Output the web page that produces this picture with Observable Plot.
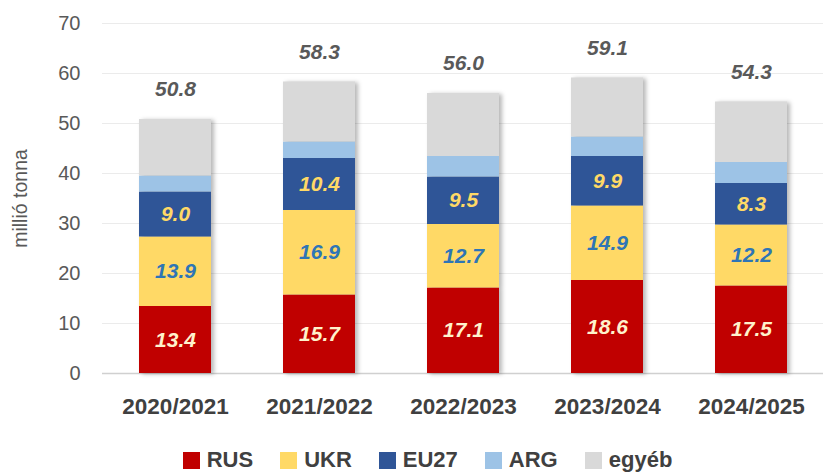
<!DOCTYPE html>
<html>
<head>
<meta charset="utf-8">
<script src="https://cdn.jsdelivr.net/npm/d3@7"></script>
<script src="https://cdn.jsdelivr.net/npm/@observablehq/plot@0.6"></script>
<style>
  body { margin: 0; background: #fff; font-family: "Liberation Sans", Arial, sans-serif; }
  #chart { width: 823px; }
  .legend { display: flex; justify-content: center; align-items: center; gap: 27px; padding-left: 32px; padding-top: 18px; height: 24px; }
  .legend span.item { display: flex; align-items: center; font-weight: bold; font-size: 22px; color: #404040; }
  .legend span.sw { display: inline-block; width: 17px; height: 17px; margin-right: 7px; }
</style>
</head>
<body>
<div id="chart"></div>
<script>
const seasons = ["2020/2021", "2021/2022", "2022/2023", "2023/2024", "2024/2025"];
const series = ["RUS", "UKR", "EU27", "ARG", "egyéb"];
const colors = ["#c00000", "#ffd966", "#2f5597", "#9dc3e6", "#d9d9d9"];
const labelColors = {RUS: "#fff2cc", UKR: "#2e75b6", EU27: "#ffd966"};
const rus = [13.4, 15.7, 17.1, 18.6, 17.5];
const ukr = [13.9, 16.9, 12.7, 14.9, 12.2];
const eu27 = [9.0, 10.4, 9.5, 9.9, 8.3];
const arg = [3.2, 3.3, 4.1, 3.9, 4.2];
const egyeb = [11.3, 12.0, 12.6, 11.8, 12.1];
const totals = [50.8, 58.3, 56.0, 59.1, 54.3];
const yTicks = [0, 10, 20, 30, 40, 50, 60, 70];

const valuesBySeries = {RUS: rus, UKR: ukr, EU27: eu27, ARG: arg, "egyéb": egyeb};
const data = [];
series.forEach(s => seasons.forEach((season, i) => data.push({season, series: s, value: valuesBySeries[s][i]})));
const totalData = seasons.map((season, i) => ({season, total: totals[i]}));

const plot = Plot.plot({
  width: 823,
  height: 430,
  marginTop: 23,
  marginBottom: 57,
  marginLeft: 102,
  marginRight: 0,
  style: {fontFamily: "'Liberation Sans', Arial, sans-serif", background: "#fff"},
  x: {domain: seasons, paddingInner: 0.5, paddingOuter: 0.25, label: null},
  y: {domain: [0, 70], label: null},
  color: {domain: series, range: colors},
  marks: [
    Plot.gridY(yTicks, {stroke: "#ebebeb", strokeOpacity: 1}),
    Plot.ruleY([0], {stroke: "#d0d0d0", strokeWidth: 1.3}),
    Plot.axisY({ticks: yTicks, tickSize: 0, tickPadding: 22, fontSize: 20, fill: "#595959", label: null}),
    Plot.axisX({tickSize: 0, tickPadding: 25, fontSize: 22.5, fontWeight: "bold", fill: "#404040", label: null}),
    Plot.text(["millió tonna"], {frameAnchor: "left", textAnchor: "middle", dx: -82, rotate: -90, fontSize: 19.5, fill: "#595959"}),
    Plot.barY(data, Plot.stackY({x: "season", y: "value", fill: "series", order: series})),
    Plot.text(data, Plot.stackY({
      filter: d => d.series in labelColors,
      x: "season", y: "value", z: "series", order: series,
      text: d => d.value.toFixed(1),
      fill: d => labelColors[d.series],
      fontSize: 21, fontWeight: "bold", fontStyle: "italic"
    })),
    Plot.text(totalData, {x: "season", y: "total", text: d => d.total.toFixed(1), dy: -30,
      fontSize: 21, fontWeight: "bold", fontStyle: "italic", fill: "#595959"})
  ]
});
const barG = plot.querySelector('g[aria-label="bar"]');
if (barG) barG.style.filter = "drop-shadow(3px 1px 2px rgba(0,0,0,0.28))";
document.getElementById("chart").appendChild(plot);

const legend = document.createElement("div");
legend.className = "legend";
series.forEach((s, i) => {
  const item = document.createElement("span");
  item.className = "item";
  const sw = document.createElement("span");
  sw.className = "sw";
  sw.style.background = colors[i];
  item.appendChild(sw);
  item.appendChild(document.createTextNode(s));
  legend.appendChild(item);
});
document.getElementById("chart").appendChild(legend);
</script>
</body>
</html>
